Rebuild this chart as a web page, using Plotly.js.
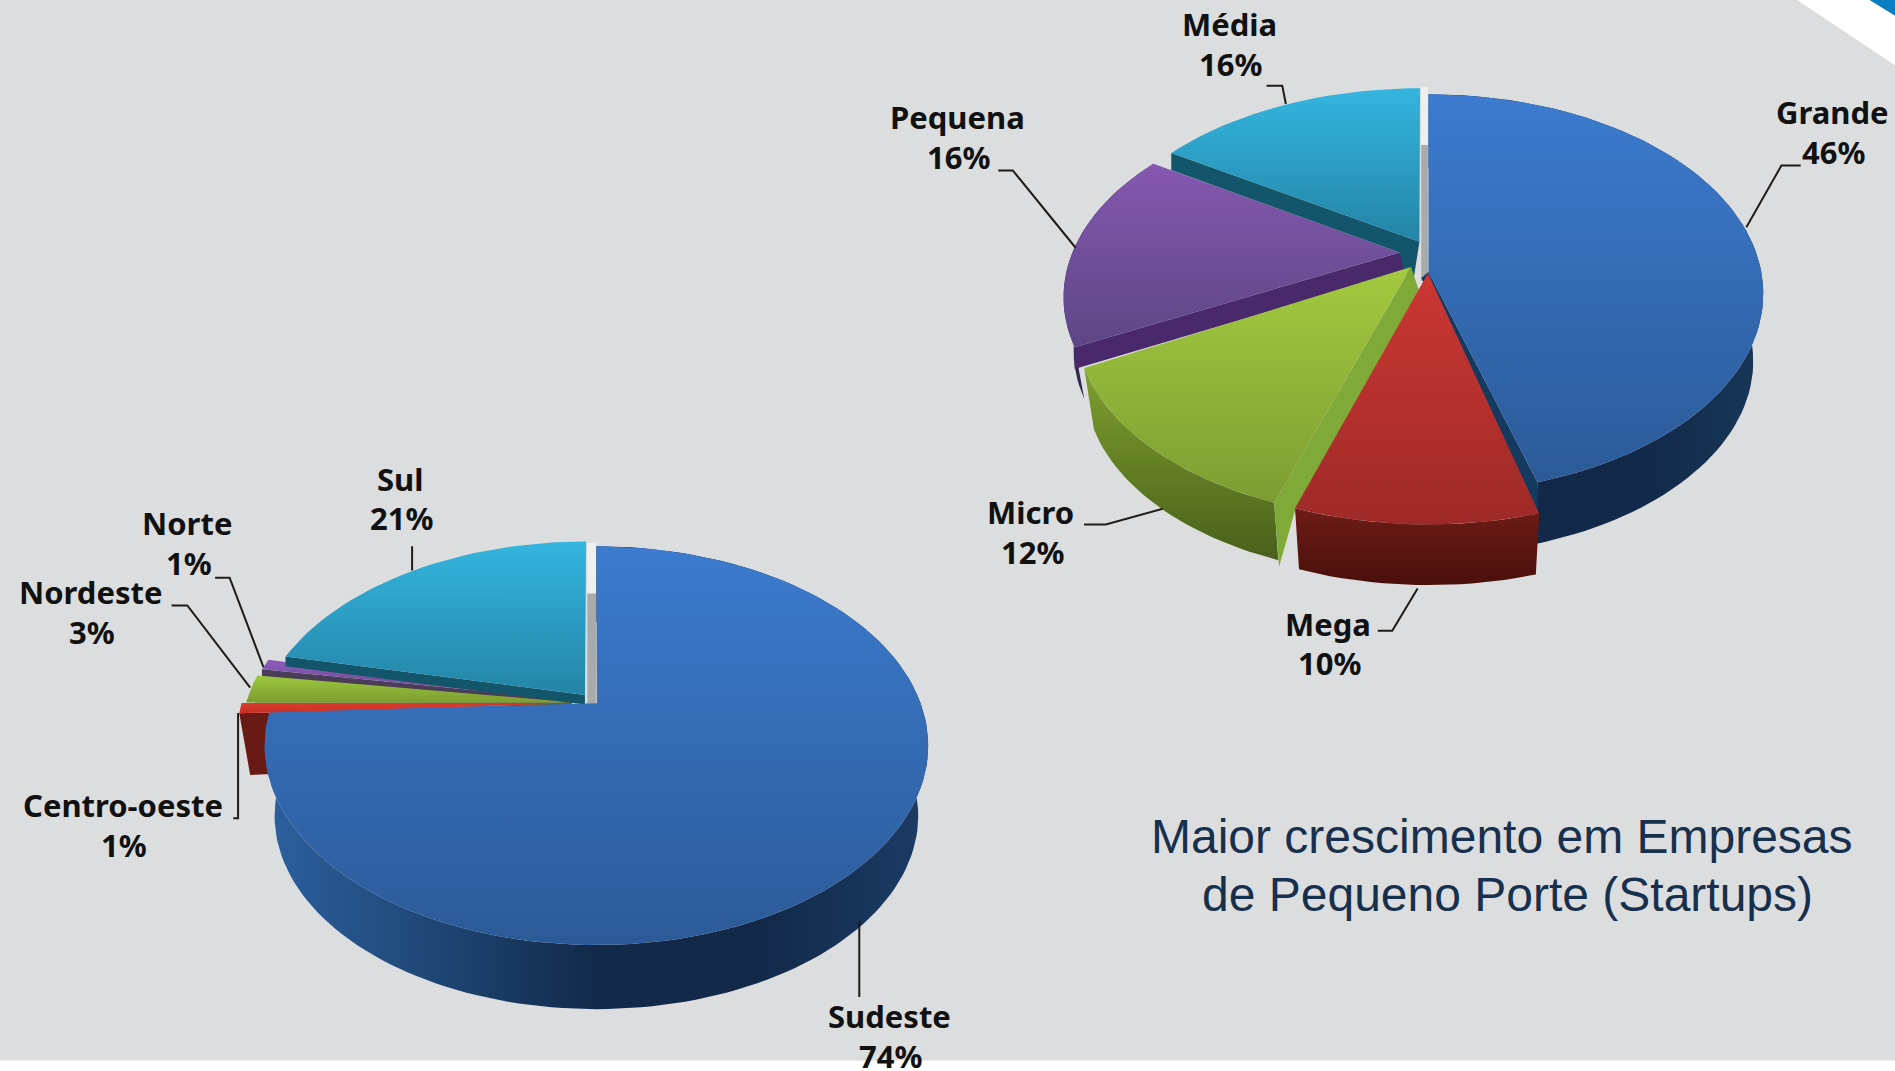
<!DOCTYPE html>
<html><head><meta charset="utf-8">
<style>html,body{margin:0;padding:0;background:#dcddde}</style>
<script src="https://cdn.plot.ly/plotly-3.0.1.min.js"></script></head>
<body><div id="chart" style="width:1895px;height:1071px"></div>
<script>
// ---- data ----
const sizeCategories = ['Grande','Mega','Micro','Pequena','Média'];
const sizeValues = [46,10,12,16,16];
const regionCategories = ['Sudeste','Centro-oeste','Nordeste','Norte','Sul'];
const regionValues = [74,1,3,1,21];
const captionLines = ['Maior crescimento em Empresas','de Pequeno Porte (Startups)'];

// ---- styling: view geometry (units: axis units of a 1568-wide canvas) ----
const sizeStyle = {
  rx:277, ry:162,
  Grande:{c:[1182,243],ry:165,apex:[1182,225],adj:[0,-4.6],top:['#3c7bcf','#2c5a98'],depth:56,
          side:['#1f4672','#12294a','#12294a','#183858'],sideDir:'horizontal',
          cut:{edge:1,rim:32,apex:5,dx:-6,color:'#143a60'}},
  Mega:{c:[1182,272],apex:[1181.5,226],adj:[-4.9,1.9],top:['#cc3733','#9e2a27'],depth:55,
          side:['#6e1c16','#4a0f0c'],sideDir:'vertical'},
  Micro:{c:[1167,268],apex:[1167.5,221],adj:[2.4,12.2],top:['#a3ca40','#7c9d32'],depth:52,
          side:['#7f9f30','#48601a'],sideDir:'vertical',
          cut:{edge:0,rim:53,rx:4,apex:0,dx:0,extra:[[1072,421],[1174,240]],color:'#80aa38'}},
  Pequena:{c:[1157,246],apex:[1158,209],adj:[10.4,10.6],top:['#8558b0','#5d4684'],depth:44,
          side:['#3c2a5c','#2c2a50'],sideDir:'vertical',
          cut:{edge:0,rim:18,apex:15,dx:6,color:'#49296b'}},
  'Média':{c:[1175,235],apex:[1174.5,200],adj:[9.6,0],top:['#34b5df','#2484a6'],
          cut:{edge:0,rim:14,apex:45,dx:-7,extra:[[1158,209]],color:'#13566b'}}
};
const regionStyle = {
  rx:274.5, ry:165,
  Sudeste:{c:[493.5,617],apex:[494,582],adj:[0,13.6],top:['#3c7bcf','#2c5a98'],depth:58,
          side:['#2c609f','#1f4776','#12294a','#12294a','#1c3c66'],sideDir:'horizontal'},
  'Centro-oeste':{c:[471,607.5],apex:[473,582],adj:[9.6,9],top:['#d93a2c','#c9302a'],
          cut:{edge:0,rim:51,rx:9,apex:48,dx:10,color:'#6a1a14'}},
  Nordeste:{c:[474,610],apex:[473,581],adj:[10,7.2],top:['#9cc63e','#7d9e30'],
          cut:{edge:0,rim:4,apex:2,dx:0,color:'#55661f'}},
  Norte:{c:[473,613],apex:[473,579],adj:[10.2,9.6],top:['#8a5bb8','#65488c'],
          cut:{edge:0,rim:6,apex:3,dx:0,color:'#4a3d58'}},
  Sul:{c:[485,613],apex:[484,575],adj:[10.6,0],top:['#34b5df','#2484a6'],
          cut:{edge:0,rim:8,apex:8,dx:0,color:'#13566b'}}
};
const sizeOrder = [['side','Grande'],['cut','Grande'],['top','Grande'],
  ['side','Pequena'],['cut','Pequena'],['top','Pequena'],
  ['cut','Média'],['top','Média'],
  ['side','Micro'],['cut','Micro'],['top','Micro'],
  ['side','Mega'],['top','Mega']];
const regionOrder = [['cut','Centro-oeste'],['cut','Norte'],['top','Norte'],['cut','Nordeste'],['top','Nordeste'],['cut','Sul'],['top','Sul'],
  ['side','Sudeste'],['top','Sudeste'],['top','Centro-oeste']];

const sizeLabels = {Grande:[1516,93],Mega:[1099,516],Micro:[853,424],Pequena:[792,97],'Média':[1017,20]};
const regionLabels = {Sudeste:[736,841],'Centro-oeste':[102,666],Nordeste:[75,490],Norte:[155,433],Sul:[331,396]};
const leaderX = [[1048,1061,1064],[1490,1474,1445],[826,838,890],[897,915,962],[1140,1152,1173],
                 [341,341],[178,190,218],[142,155,207],[193,197,197],[711,711]];
const leaderY = [[71,71,86],[137,137,188],[141,141,205],[434,434,421],[522,522,487],
                 [452,472],[478,478,552],[501,501,569],[677,677,590],[762,825]];

// ---- build polygons from the values ----
const rad = d => d*Math.PI/180;
function rimPoint(st,p,t,shrink,dy){const ry=p.ry||st.ry;return [p.c[0]+st.rx*shrink*Math.sin(rad(t)), p.c[1]+dy-ry*shrink*Math.cos(rad(t))];}
function polygon(name,pts,colors,dir){
  const vertical=(dir||'vertical')==='vertical';
  const cols=vertical?colors.slice().reverse():colors;   // y axis runs downward
  const n=cols.length-1;
  return {type:'scatter',mode:'lines',name:name,x:pts.map(p=>p[0]).concat(pts[0][0]),y:pts.map(p=>p[1]).concat(pts[0][1]),
    fill:'toself',line:{width:0},hoverinfo:'name',
    fillgradient:{type:dir||'vertical',colorscale:cols.map((c,i)=>[n?i/n:0,c])},showlegend:false};
}
function pieTraces(cats,vals,st,order){
  const total=vals.reduce((a,b)=>a+b,0); let cum=0; const ang={};
  cats.forEach((c,i)=>{const p=st[c];ang[c]=[cum/total*360+p.adj[0],(cum+vals[i])/total*360+p.adj[1]];cum+=vals[i];});
  return order.map(([kind,c])=>{
    const p=st[c],[a,b]=ang[c],N=Math.max(8,Math.ceil((b-a)/2));
    const arc=[],low=[];
    for(let i=0;i<=N;i++){const t=a+(b-a)*i/N;arc.push(rimPoint(st,p,t,1,0));if(p.depth)low.push(rimPoint(st,p,t,0.97,p.depth));}
    if(kind==='top') return polygon(c,[p.apex].concat(arc),p.top,'vertical');
    if(kind==='side') return polygon(c,arc.concat(low.slice().reverse()),p.side,p.sideDir);
    const e=arc[p.cut.edge?arc.length-1:0];
    return polygon(c,[p.apex,e,[e[0]+(p.cut.rx||0),e[1]+p.cut.rim]].concat(p.cut.extra||[],[[p.apex[0]+p.cut.dx,p.apex[1]+p.cut.apex]]),[p.cut.color,p.cut.color],'vertical');
  });
}
const strip=(x0,x1,y0,y1,col,name)=>polygon(name,[[x0,y0],[x1,y0],[x1,y1],[x0,y1]],[col,col],'vertical');
const traces=[
  strip(1176,1181.5,72,120,'#eef0f0','gap'), strip(1176,1181.5,120,232,'#a9aaac','gap'),
  ...pieTraces(sizeCategories,sizeValues,sizeStyle,sizeOrder),
  strip(486,493.5,449,491,'#eef0f0','gap'), strip(486,493.5,491,583,'#a9aaac','gap'),
  ...pieTraces(regionCategories,regionValues,regionStyle,regionOrder),
  ...leaderX.map((xs,i)=>({type:'scatter',mode:'lines',x:xs,y:leaderY[i],line:{color:'#1c1c1c',width:2},hoverinfo:'skip',showlegend:false}))
];
const labelFont={family:'"Noto Sans",sans-serif',size:31,color:'#111111',weight:700};
const ann=(x,y,text,font)=>({xref:'x',yref:'y',x,y,text,showarrow:false,xanchor:'center',yanchor:'middle',font});
const annotations=[];
[[sizeCategories,sizeValues,sizeLabels],[regionCategories,regionValues,regionLabels]].forEach(([cs,vs,ls])=>{
  cs.forEach((c,i)=>{annotations.push(ann(ls[c][0],ls[c][1],c,labelFont));
    annotations.push(ann(ls[c][0]+1,ls[c][1]+33,vs[i]+'%',labelFont));});
});
const capFont={family:'"Liberation Sans",Arial,sans-serif',size:48,color:'#17304d'};
annotations.push(ann(1242.5,692,captionLines[0],capFont),ann(1247,740,captionLines[1],capFont));

const layout={width:1895,height:1071,margin:{l:0,r:0,t:0,b:0,pad:0},paper_bgcolor:'#dcddde',plot_bgcolor:'#dcddde',showlegend:false,
  xaxis:{range:[0,1568],visible:false,fixedrange:true},yaxis:{range:[886.2,0],visible:false,fixedrange:true},
  annotations,
  shapes:[
    {type:'rect',xref:'x',yref:'y',x0:0,x1:1568,y0:877.5,y1:886.2,fillcolor:'#ffffff',line:{width:0},layer:'below'},
    {type:'path',xref:'x',yref:'y',path:'M1487,0 L1568,54 L1568,0 Z',fillcolor:'#ffffff',line:{width:0},layer:'below'},
    {type:'path',xref:'x',yref:'y',path:'M1547,0 L1568,13 L1568,0 Z',fillcolor:'#0a7ec2',line:{width:0},layer:'below'}
  ]};
Plotly.newPlot('chart',traces,layout,{displayModeBar:false,staticPlot:true});
</script></body></html>
